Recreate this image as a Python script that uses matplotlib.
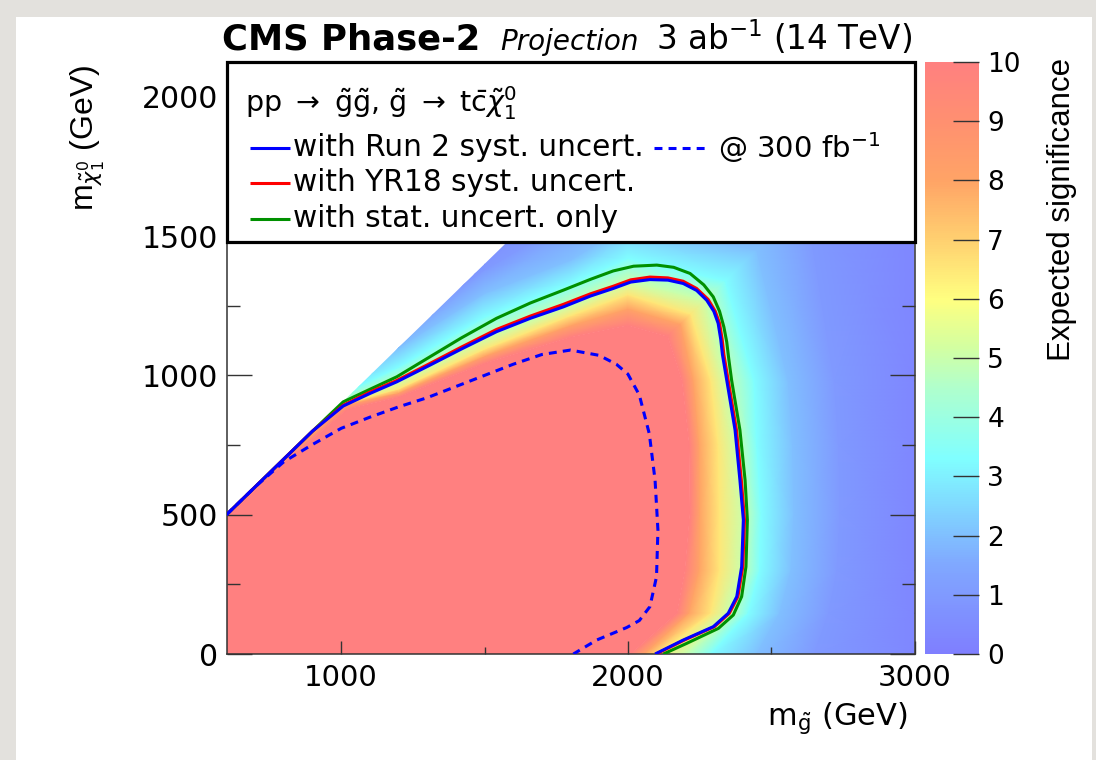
import numpy as np
import matplotlib
matplotlib.use("Agg")
import matplotlib.pyplot as plt
from matplotlib.colors import LinearSegmentedColormap
from matplotlib.patches import Rectangle, Polygon
from matplotlib.ticker import FixedLocator, MultipleLocator

plt.rcParams['font.family'] = ['DejaVu Sans']
plt.rcParams['mathtext.fontset'] = 'dejavusans'

# ---------------- data ----------------
# Expected-significance map, described by iso-significance bands.
# Each row = one significance level; each column = one cut across the band structure
# (along the kinematic edge, vertical cuts at fixed m_gluino, a corner cut, and
#  horizontal cuts at fixed m_LSP).  Inside the level-10 curve the map is saturated.
SIG_LEVELS = [10, 8, 6.5, 5, 3.3, 2, 1, 0.3]
BAND_MG = [
    [600, 808, 1021, 1200, 1500, 1800, 2000, 2140, 2190, 2215, 2217, 2200, 2172, 2010],
    [600, 800, 1008, 1200, 1500, 1800, 2000, 2185, 2230, 2250, 2252, 2250, 2215, 2060],
    [592, 792, 1004, 1200, 1500, 1800, 2000, 2220, 2290, 2315, 2320, 2320, 2290, 2110],
    [582, 782, 1000, 1200, 1500, 1800, 2000, 2270, 2345, 2380, 2403, 2397, 2350, 2200],
    [565, 765, 979, 1200, 1500, 1800, 2000, 2340, 2440, 2450, 2465, 2460, 2420, 2290],
    [536, 736, 943, 1200, 1500, 1800, 2000, 2450, 2560, 2575, 2580, 2570, 2530, 2450],
    [494, 694, 894, 1200, 1500, 1800, 2000, 2620, 2720, 2735, 2740, 2730, 2700, 2650],
    [423, 623, 823, 1200, 1500, 1800, 2000, 3000, 3000, 3000, 3000, 3000, 3000, 3000],
]
BAND_MLSP = [
    [490, 692, 879, 923, 1044, 1138, 1180, 1140, 980, 750, 505, 300, 146, 0],
    [500, 700, 892, 938, 1070, 1180, 1240, 1185, 980, 750, 505, 300, 146, 0],
    [508, 708, 897, 952, 1095, 1215, 1290, 1220, 980, 750, 505, 300, 146, 0],
    [518, 718, 900, 977, 1134, 1252, 1338, 1270, 980, 750, 505, 300, 146, 0],
    [535, 735, 921, 1030, 1210, 1331, 1420, 1340, 980, 750, 505, 300, 146, 0],
    [564, 764, 957, 1100, 1295, 1414, 1540, 1450, 980, 750, 505, 300, 146, 0],
    [606, 806, 1006, 1160, 1380, 1560, 1700, 1620, 980, 750, 505, 300, 146, 0],
    [677, 877, 1077, 1260, 1480, 1800, 2000, 1800, 980, 750, 505, 300, 146, 0],
]

# 5 sigma contours (3 ab^-1): Run 2 syst., YR18 syst., stat. only
RUN2_MG = [600, 700, 800, 900, 1007, 1100, 1194, 1310, 1420, 1542, 1660, 1775, 1870, 1949, 2010,
           2077, 2140, 2193, 2240, 2275, 2300, 2315, 2324, 2330, 2345, 2374, 2391, 2403, 2397, 2380,
           2350, 2298, 2193, 2095]
RUN2_MLSP = [500, 600, 700, 800, 890, 935, 977, 1037, 1095, 1157, 1205, 1246, 1285, 1312, 1335,
             1344, 1342, 1330, 1305, 1270, 1230, 1187, 1130, 1075, 983, 804, 624, 481, 313, 206,
             146, 98, 50, 0]
YR18_MG = [600, 700, 800, 900, 1007, 1100, 1194, 1310, 1420, 1542, 1660, 1775, 1870, 1949, 2010,
           2077, 2140, 2193, 2240, 2280, 2305, 2320, 2329, 2335, 2350, 2379, 2396, 2407, 2401, 2384,
           2354, 2302, 2197, 2099]
YR18_MLSP = [500, 600, 700, 800, 893, 940, 982, 1043, 1102, 1165, 1213, 1255, 1293, 1320, 1343,
             1353, 1350, 1338, 1312, 1273, 1230, 1187, 1130, 1075, 983, 804, 624, 481, 313, 206,
             146, 98, 50, 0]
STAT_MG = [600, 700, 800, 900, 1007, 1100, 1194, 1310, 1420, 1542, 1660, 1775, 1870, 1949, 2020,
           2101, 2160, 2217, 2265, 2298, 2320, 2335, 2345, 2352, 2362, 2391, 2409, 2417, 2412, 2397,
           2368, 2316, 2205, 2124]
STAT_MLSP = [500, 600, 700, 800, 905, 950, 995, 1067, 1135, 1205, 1260, 1306, 1345, 1375, 1392,
             1396, 1388, 1366, 1325, 1282, 1230, 1174, 1120, 1060, 983, 804, 624, 481, 313, 206,
             140, 92, 38, 0]
# 5 sigma contour at 300 fb^-1 (Run 2 syst.)
LOWLUMI_MG = [600, 700, 800, 900, 1000, 1100, 1200, 1300, 1400, 1500, 1600, 1700, 1800, 1900,
              1960, 2000, 2040, 2075, 2095, 2105, 2100, 2077, 2040, 1996, 1891, 1810]
LOWLUMI_MLSP = [500, 600, 690, 752, 810, 850, 887, 920, 960, 1000, 1040, 1075, 1091, 1072,
                1040, 1005, 930, 790, 624, 445, 277, 170, 120, 95, 50, 0]

X_RANGE = (600, 3000)
Y_RANGE = (0, 2125)
DM_MIN = 100          # kinematic edge m_LSP = m_gluino - 100
Z_RANGE = (0, 10)
X_MAJOR = [1000, 2000, 3000]
X_MINOR = [1500, 2500]
Y_MAJOR = [0, 500, 1000, 1500, 2000]
CBAR_TICKS = list(range(0, 11))

# ---------------- figure ----------------
W, H = 1096, 760
fig = plt.figure(figsize=(W / 100, H / 100), dpi=100)
fig.patch.set_facecolor('#e3e1dd')
fig.add_artist(Rectangle((16 / W, 0), (1092 - 16) / W, 1 - 17 / H, transform=fig.transFigure,
                         facecolor='white', edgecolor='none', zorder=-5))

ax = fig.add_axes([226.5 / W, 1 - 654 / H, 688 / W, 592 / H])
ax.set_xlim(*X_RANGE)
ax.set_ylim(*Y_RANGE)
ax.set_facecolor('white')

cmap = LinearSegmentedColormap.from_list('sig', [
    (0.00, '#7f7fff'), (0.15, '#80a8ff'), (0.33, '#80ffff'), (0.45, '#b0ffcc'),
    (0.52, '#d4ffa0'), (0.60, '#ffff80'), (0.70, '#ffd070'), (0.80, '#ffa466'),
    (0.90, '#ff9070'), (1.00, '#ff8080')])

# kinematic clip region (below m_LSP = m_gluino - DM_MIN)
clip = Polygon([(X_RANGE[0], 0), (X_RANGE[1], 0), (X_RANGE[1], X_RANGE[1] - DM_MIN),
                (X_RANGE[0], X_RANGE[0] - DM_MIN)], closed=True, transform=ax.transData)

# saturated core (inside the level-10 curve)
core_x = [X_RANGE[0], X_RANGE[0]] + BAND_MG[0]
core_y = [Y_RANGE[0], X_RANGE[0] - DM_MIN] + BAND_MLSP[0]
core = ax.fill(core_x, core_y, color=cmap(1.0), lw=0, zorder=1)[0]
core.set_clip_path(clip)

# bands between iso-significance curves
Xb = np.array(BAND_MG, dtype=float)
Yb = np.array(BAND_MLSP, dtype=float)
Cb = np.repeat(np.array(SIG_LEVELS, dtype=float)[:, None], Xb.shape[1], axis=1)
mesh = ax.pcolormesh(Xb, Yb, Cb, shading='gouraud', cmap=cmap,
                     vmin=Z_RANGE[0], vmax=Z_RANGE[1], zorder=1.1)
mesh.set_clip_path(clip)

lw = 2.2
ax.plot(STAT_MG, STAT_MLSP, color='#009000', lw=lw, zorder=3, solid_capstyle='butt')
ax.plot(YR18_MG, YR18_MLSP, color='#ff0000', lw=lw, zorder=3.1, solid_capstyle='butt')
ax.plot(RUN2_MG, RUN2_MLSP, color='#0000ff', lw=lw, zorder=3.2, solid_capstyle='butt')
ax.plot(LOWLUMI_MG, LOWLUMI_MLSP, color='#0000ff', lw=lw, ls=(0, (2.6, 2.0)), zorder=3.3)

# ticks
ax.xaxis.set_major_locator(FixedLocator(X_MAJOR))
ax.xaxis.set_minor_locator(FixedLocator(X_MINOR))
ax.yaxis.set_major_locator(FixedLocator(Y_MAJOR))
ax.yaxis.set_minor_locator(MultipleLocator(250))
ax.tick_params(axis='x', which='major', direction='in', length=9.5, width=1.0, color='#333333',
               labelsize=21, pad=7, top=False)
ax.tick_params(axis='x', which='minor', direction='in', length=5, width=1.0, color='#333333', top=False)
ax.tick_params(axis='y', which='major', direction='in', length=18, width=1.0, color='#333333',
               labelsize=21.5, pad=6, left=True, right=True)
ax.tick_params(axis='y', which='minor', direction='in', length=9.4, width=1.0, color='#333333',
               left=True, right=True)
for s in ax.spines.values():
    s.set_color('#333333')
    s.set_linewidth(1.1)

# legend box
leg_bottom = 0.696
ax.add_patch(Rectangle((0, leg_bottom), 1, 1 - leg_bottom, transform=ax.transAxes,
                       facecolor='white', edgecolor='black', lw=2.3, zorder=5, clip_on=False))
ax.text(0.027, 0.931, r'pp $\rightarrow$ $\tilde{\mathrm{g}}\tilde{\mathrm{g}}$, $\tilde{\mathrm{g}}$ $\rightarrow$ t$\bar{\mathrm{c}}\tilde{\chi}^{0}_{1}$',
        transform=ax.transAxes, fontsize=20.5, va='center', ha='left', zorder=6)
rows = [(0.855, '#0000ff', 'with Run 2 syst. uncert.'),
        (0.796, '#ff0000', 'with YR18 syst. uncert.'),
        (0.735, '#009000', 'with stat. uncert. only')]
for yy, col, lab in rows:
    ax.plot([0.034, 0.093], [yy, yy], transform=ax.transAxes, color=col, lw=lw, zorder=6,
            clip_on=False, solid_capstyle='butt')
    ax.text(0.097, yy, lab, transform=ax.transAxes, fontsize=21.3, va='center', ha='left', zorder=6)
ax.plot([0.622, 0.700], [0.855, 0.855], transform=ax.transAxes, color='#0000ff', lw=lw,
        ls=(0, (2.6, 2.0)), zorder=6, clip_on=False)
ax.text(0.714, 0.855, r'@ 300 fb$^{-1}$', transform=ax.transAxes, fontsize=21,
        va='center', ha='left', zorder=6)

# colorbar
cax = fig.add_axes([924.5 / W, 1 - 654 / H, 54.5 / W, 592 / H])
cb = fig.colorbar(mesh, cax=cax, ticks=CBAR_TICKS)
cb.outline.set_visible(False)
cax.tick_params(direction='in', length=19, width=1.0, color='#333333', labelsize=19, pad=6,
                right=True, left=False)
cax.minorticks_off()
fig.text(1062 / W, 1 - 58 / H, 'Expected significance', rotation=90, ha='center', va='top',
         fontsize=22.5, family=['Liberation Sans', 'DejaVu Sans'])

# axis titles
fig.text(88 / W, 1 - 65 / H, r'm$_{\tilde{\chi}^{0}_{1}}$ (GeV)', rotation=90, ha='center', va='top',
         fontsize=23, family=['Liberation Sans', 'DejaVu Sans'])
fig.text(908 / W, 1 - 718 / H, r'm$_{\tilde{\mathrm{g}}}$ (GeV)', ha='right', va='center', fontsize=22)

# header
fig.text(222 / W, 1 - 50 / H, 'CMS Phase-2', fontsize=25.5, fontweight='bold', ha='left', va='baseline')
fig.text(500 / W, 1 - 50 / H, 'Projection', fontsize=20, fontstyle='italic', ha='left', va='baseline')
fig.text(912 / W, 1 - 50 / H, r'3 ab$^{-1}$ (14 TeV)', fontsize=23.5, ha='right', va='baseline')

fig.savefig('out.png', dpi=100, facecolor=fig.get_facecolor())
